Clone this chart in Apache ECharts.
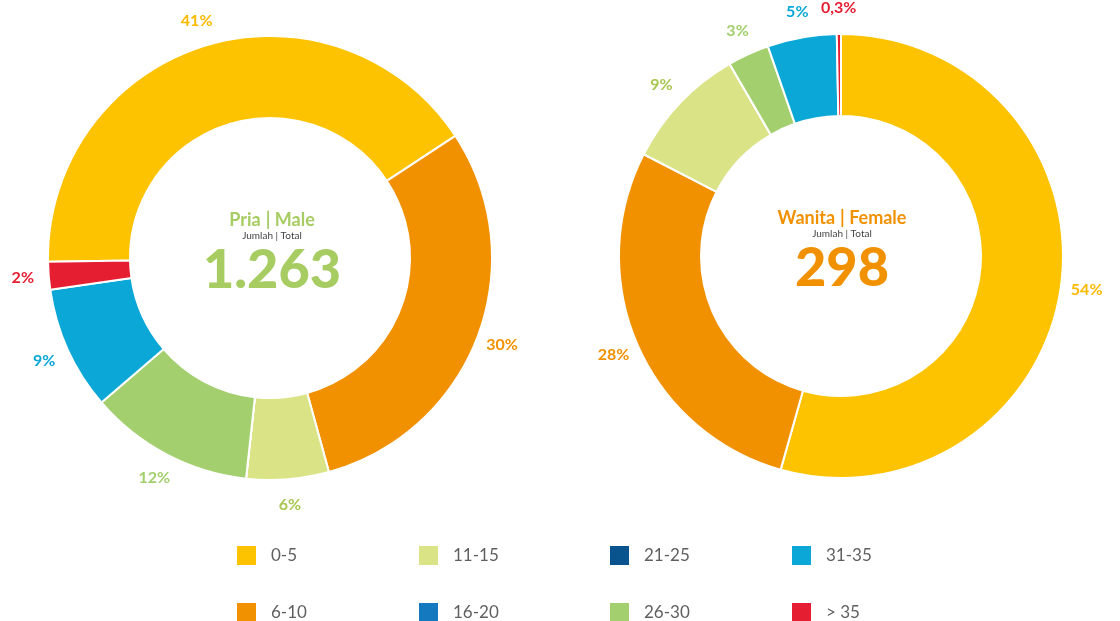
<!DOCTYPE html>
<html>
<head>
<meta charset="utf-8">
<script src="https://cdn.jsdelivr.net/npm/echarts@6/dist/echarts.min.js"></script>
<style>
  html, body { margin: 0; padding: 0; background: #fff; }
  #chart { width: 1120px; height: 621px; }
</style>
</head>
<body>
<div id="chart"></div>
<script>
// kelompok umur / masa kerja
const categories = ['0-5', '6-10', '11-15', '16-20', '21-25', '26-30', '31-35', '> 35']
const colors = ['#FDC300', '#F29100', '#DBE387', '#1479BF', '#09548F', '#A3CF6E', '#0AA7D7', '#E61E32']
// warna teks persen (11-15 lebih gelap supaya terbaca)
const labelColors = ['#FBB900', '#F29100', '#A8C750', '#1479BF', '#09548F', '#A3CF6E', '#0AA7D7', '#E61E32']
// persentase
const maleValues = [41, 30, 6, 0, 0, 12, 9, 2]
const femaleValues = [54, 28, 9, 0, 0, 3, 5, 0.3]
const maleTotal = '1.263'
const femaleTotal = '298'

const fontFam = 'Lato, "Noto Sans", sans-serif'

function ringSeries(values, center, startAngle) {
  return {
    type: 'pie',
    center: center,
    radius: [140, 222],
    startAngle: startAngle,
    clockwise: true,
    silent: true,
    itemStyle: { borderColor: '#fff', borderWidth: 2 },
    label: { show: false },
    labelLine: { show: false },
    data: values.map((v, i) => ({ name: categories[i], value: v, itemStyle: { color: colors[i] } }))
  }
}

// cincin transparan di luar, hanya untuk meletakkan label persen
function labelSeries(values, center, startAngle) {
  return {
    type: 'pie',
    center: center,
    radius: [222, 268],
    startAngle: startAngle,
    clockwise: true,
    silent: true,
    legendHoverLink: false,
    itemStyle: { color: 'rgba(0,0,0,0)', borderWidth: 0 },
    label: {
      position: 'inside',
      fontFamily: fontFam,
      fontWeight: 'bold',
      fontSize: 16,
      formatter: (p) => String(p.value).replace('.', ',') + '%'
    },
    labelLine: { show: false },
    data: values.map((v, i) => ({
      name: categories[i],
      value: v,
      label: { show: v > 0, color: labelColors[i] }
    }))
  }
}

function legendCol(x, items) {
  return {
    orient: 'vertical',
    left: x,
    top: 544,
    height: 120,
    padding: 0,
    itemWidth: 21,
    itemHeight: 21,
    itemGap: 34,
    icon: 'rect',
    selectedMode: false,
    textStyle: { color: '#5f5f5f', fontSize: 17, lineHeight: 21, fontFamily: fontFam, padding: [0, 0, 0, 9] },
    data: items
  }
}

function centerTitle(x, y, bold, thin, color, total) {
  return [
    {
      left: x, top: y, textAlign: 'center',
      text: '{b|' + bold + '} {r|| ' + thin + '}',
      textStyle: {
        rich: {
          b: { fontFamily: fontFam, fontWeight: 'bold', fontSize: 18, color: color },
          r: { fontFamily: fontFam, fontSize: 18, color: color }
        }
      }
    },
    {
      left: x, top: y + 20, textAlign: 'center',
      text: 'Jumlah | Total',
      textStyle: { fontFamily: fontFam, fontSize: 10, fontWeight: 'normal', color: '#444' }
    },
    {
      left: x, top: y + 33, textAlign: 'center',
      text: total,
      textStyle: { fontFamily: fontFam, fontSize: 54, fontWeight: 900, color: color }
    }
  ]
}

const chart = echarts.init(document.getElementById('chart'))
const option = {
  animation: false,
  title: [].concat(
    centerTitle(267, 206, 'Pria', 'Male', '#A6CC62', maleTotal),
    centerTitle(837, 204, 'Wanita', 'Female', '#F29100', femaleTotal)
  ),
  legend: [
    legendCol(235, ['0-5', '6-10']),
    legendCol(417, ['11-15', '16-20']),
    legendCol(608, ['21-25', '26-30']),
    legendCol(790, ['31-35', '> 35'])
  ],
  series: [
    ringSeries(maleValues, [270, 258], 181),
    labelSeries(maleValues, [270, 258], 181),
    ringSeries(femaleValues, [841, 256], 90),
    labelSeries(femaleValues, [841, 256], 90)
  ]
}
chart.setOption(option)
</script>
</body>
</html>
